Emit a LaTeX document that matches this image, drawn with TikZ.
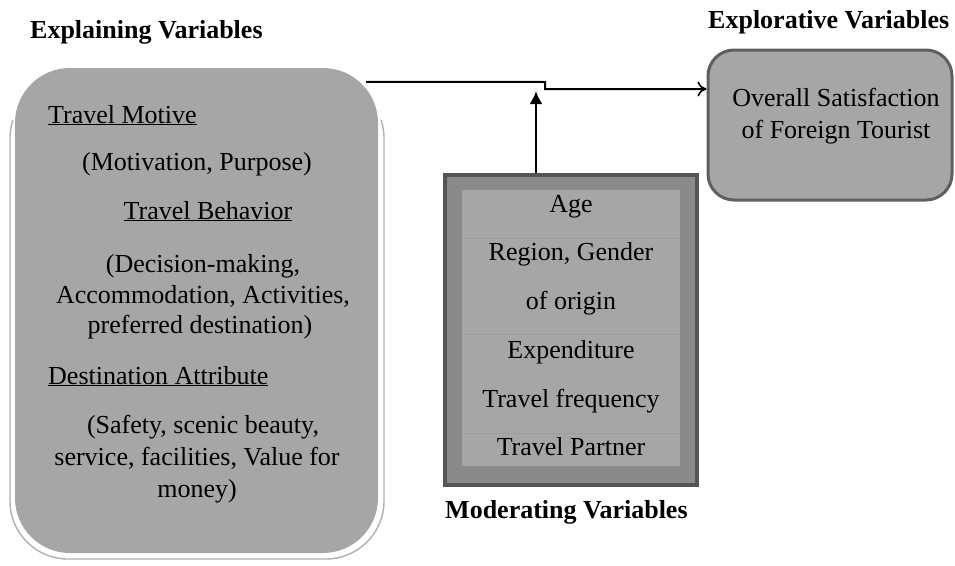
\documentclass[tikz,border=0pt]{standalone}
\usepackage{fontspec}
\setmainfont{Liberation Serif}
\usetikzlibrary{arrows.meta}
\definecolor{boxgray}{HTML}{A6A6A6}
\definecolor{midgray}{HTML}{8A8A8A}
\definecolor{darkgray}{HTML}{555555}
\definecolor{rimgray}{HTML}{5F5F5F}
\definecolor{sepgray}{HTML}{9C9C9C}
\definecolor{framegray}{HTML}{B0B0B0}
\tikzset{
  txt/.style={font=\fontsize{26}{31}\selectfont, inner sep=0pt, anchor=base},
  head/.style={font=\fontsize{26}{31}\selectfont\bfseries, inner sep=0pt, anchor=base west},
  conn/.style={line width=2pt, black},
}
\begin{document}
\begin{tikzpicture}[x=1pt,y=-1pt]
\useasboundingbox (0,0) rectangle (955,565);
% left box frame
\begin{scope}
\clip (0,120) rectangle (400,565);
\draw[framegray, line width=1.4pt, fill=white, rounded corners=58] (10,80) rectangle (384,559);
\end{scope}
\node[draw=none, fill=boxgray, rounded corners=55, minimum width=363, minimum height=485, inner sep=0pt] (L) at (196.5,310.5) {};
% headings
\node[head] (hL) at (30,38) {Explaining Variables};
\node[head] (hR) at (708,28) {Explorative Variables};
\node[head] (hM) at (445,518) {Moderating Variables};
% left texts
\node[txt, anchor=base west] (t1) at (48,123) {\underline{Travel Motive}};
\node[txt] (t2) at (197,170) {(Motivation, Purpose)};
\node[txt] (t3) at (208,219) {\underline{Travel Behavior}};
\node[txt] (t4) at (203,272) {(Decision-making,};
\node[txt] (t5) at (203,303) {Accommodation, Activities,};
\node[txt] (t6) at (200,333) {preferred destination)};
\node[txt, anchor=base west] (t7) at (48,384) {\underline{Destination Attribute}};
\node[txt] (t8) at (203,433) {(Safety, scenic beauty,};
\node[txt] (t9) at (197,465) {service, facilities, Value for};
\node[txt] (t10) at (197,497) {money)};
% right box
\node[draw=rimgray, line width=3pt, fill=boxgray, rounded corners=26, minimum width=244, minimum height=150, inner sep=0pt] (R) at (830,125) {};
\node[txt] (r1) at (836,106) {Overall Satisfaction};
\node[txt] (r2) at (836,138) {of Foreign Tourist};
% moderating box
\node[draw=darkgray, line width=3.5pt, fill=midgray, minimum width=252, minimum height=310, inner sep=0pt] (M) at (571,330) {};
\fill[boxgray] (462,190) rectangle (680,466);
\draw[sepgray, line width=0.6pt] (462,238) -- (680,238);
\draw[sepgray, line width=0.6pt] (462,334) -- (680,334);
\draw[sepgray, line width=0.6pt] (462,433) -- (680,433);
\node[txt] (m1) at (571,212) {Age};
\node[txt] (m2) at (571,260) {Region, Gender};
\node[txt] (m3) at (571,309) {of origin};
\node[txt] (m4) at (571,358) {Expenditure};
\node[txt] (m5) at (571,407) {Travel frequency};
\node[txt] (m6) at (571,455) {Travel Partner};
% connectors
\coordinate (s) at ([shift={(-12,14)}]L.north east);
\coordinate (k1) at (545,82);
\coordinate (k2) at (545,89);
\draw[conn, -{To[length=9pt,width=15pt,line width=1.6pt]}] (s) -- (k1) -- (k2) -- (R.west |- k2);
\coordinate (up) at (536,91);
\draw[conn, line width=2.6pt, -{Latex[length=13pt,width=13pt]}] (M.north -| up) -- (up);
\end{tikzpicture}
\end{document}
